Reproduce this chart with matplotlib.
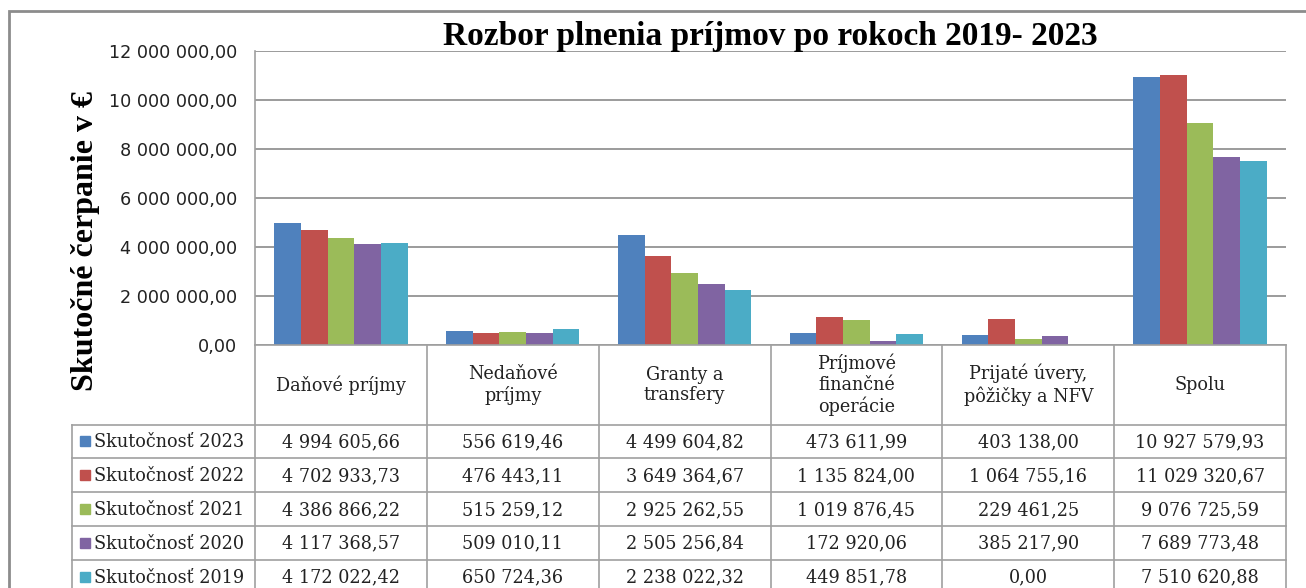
import numpy as np
import matplotlib.pyplot as plt
from matplotlib.lines import Line2D
from matplotlib.patches import Rectangle
from matplotlib.ticker import FuncFormatter

# Data
categories = ['Daňové príjmy', 'Nedaňové\npríjmy', 'Granty a\ntransfery',
              'Príjmové\nfinančné\noperácie', 'Prijaté úvery,\npôžičky a NFV', 'Spolu']
series = ['Skutočnosť 2023', 'Skutočnosť 2022', 'Skutočnosť 2021',
          'Skutočnosť 2020', 'Skutočnosť 2019']
v2023 = [4994605.66, 556619.46, 4499604.82, 473611.99, 403138.00, 10927579.93]
v2022 = [4702933.73, 476443.11, 3649364.67, 1135824.00, 1064755.16, 11029320.67]
v2021 = [4386866.22, 515259.12, 2925262.55, 1019876.45, 229461.25, 9076725.59]
v2020 = [4117368.57, 509010.11, 2505256.84, 172920.06, 385217.90, 7689773.48]
v2019 = [4172022.42, 650724.36, 2238022.32, 449851.78, 0.00, 7510620.88]
values = [v2023, v2022, v2021, v2020, v2019]
colors = ['#4F81BD', '#C0504D', '#9BBB59', '#8064A2', '#4BACC6']

W, H = 1306, 588


def fx(x):
    return x / W


def fy(y):
    return 1 - y / H


def sk(v):
    # slovak number format: space groups, comma decimal
    s = f'{v:,.2f}'
    return s.replace(',', ' ').replace('.', ',')


fig = plt.figure(figsize=(W / 100, H / 100), dpi=100)

# plot area in pixel terms
left, right, top, bottom = 255, 1286, 51, 345
ax = fig.add_axes([fx(left), fy(bottom), fx(right - left), (bottom - top) / H])

n = len(series)
bw = 0.775 / n
x = np.arange(len(categories))
for j in range(n):
    ax.bar(x + (j - (n - 1) / 2) * bw, values[j], bw, color=colors[j], zorder=3)

ax.set_xlim(-0.5, len(categories) - 0.5)
ax.set_ylim(0, 12000000)
ax.set_yticks(np.arange(0, 12000001, 2000000))
ax.yaxis.set_major_formatter(FuncFormatter(lambda v, p: sk(v)))
ax.set_xticks([])
ax.tick_params(axis='y', length=0, pad=13, labelsize=12.7, labelcolor='#222222')
ax.grid(axis='y', color='#8a8a8a', linewidth=1.2, zorder=0)
for s in ['top', 'right', 'bottom']:
    ax.spines[s].set_visible(False)
ax.spines['left'].set_color('#a0a0a0')
ax.spines['left'].set_linewidth(1.2)

# outer frame
fig.add_artist(Rectangle((fx(9), fy(620)), fx(1400), (620 - 11) / H, fill=False,
                         edgecolor='#8c8c8c', linewidth=2, transform=fig.transFigure))

fig.text(fx(770), fy(36), 'Rozbor plnenia príjmov po rokoch 2019- 2023',
         ha='center', va='center', fontsize=24, fontweight='bold',
         family='Liberation Serif')
fig.text(fx(86), fy(241), 'Skutočné čerpanie v €', rotation=90,
         ha='center', va='center', fontsize=23, fontweight='bold',
         family='Liberation Serif')

# data table
gc = '#a0a0a0'
colw = (right - left) / len(categories)
row_tops = [424.5, 458.3, 492.1, 525.9, 559.7, 593.5]
tleft = 72


def line(x0, y0, x1, y1):
    fig.add_artist(Line2D([fx(x0), fx(x1)], [fy(y0), fy(y1)], color=gc,
                          linewidth=1.2, transform=fig.transFigure))


line(left, bottom, right, bottom)
for yy in row_tops:
    line(tleft, yy, right, yy)
for i in range(len(categories) + 1):
    line(left + i * colw, bottom, left + i * colw, 620)
line(tleft, row_tops[0], tleft, 620)

tf = dict(family='DejaVu Serif', fontsize=12.7, color='#222222')
for i, c in enumerate(categories):
    fig.text(fx(left + (i + 0.5) * colw), fy(385), c, ha='center', va='center',
             linespacing=1.2, **tf)

for j in range(n):
    yc = (row_tops[j] + row_tops[j + 1]) / 2
    fig.add_artist(Rectangle((fx(80), fy(yc + 5)), fx(10), 10 / H,
                             color=colors[j], transform=fig.transFigure))
    fig.text(fx(94), fy(yc + 1), series[j], ha='left', va='center', **tf)
    for i in range(len(categories)):
        fig.text(fx(left + (i + 0.5) * colw), fy(yc + 1), sk(values[j][i]),
                 ha='center', va='center', **tf)

fig.savefig('out.png', dpi=100)
